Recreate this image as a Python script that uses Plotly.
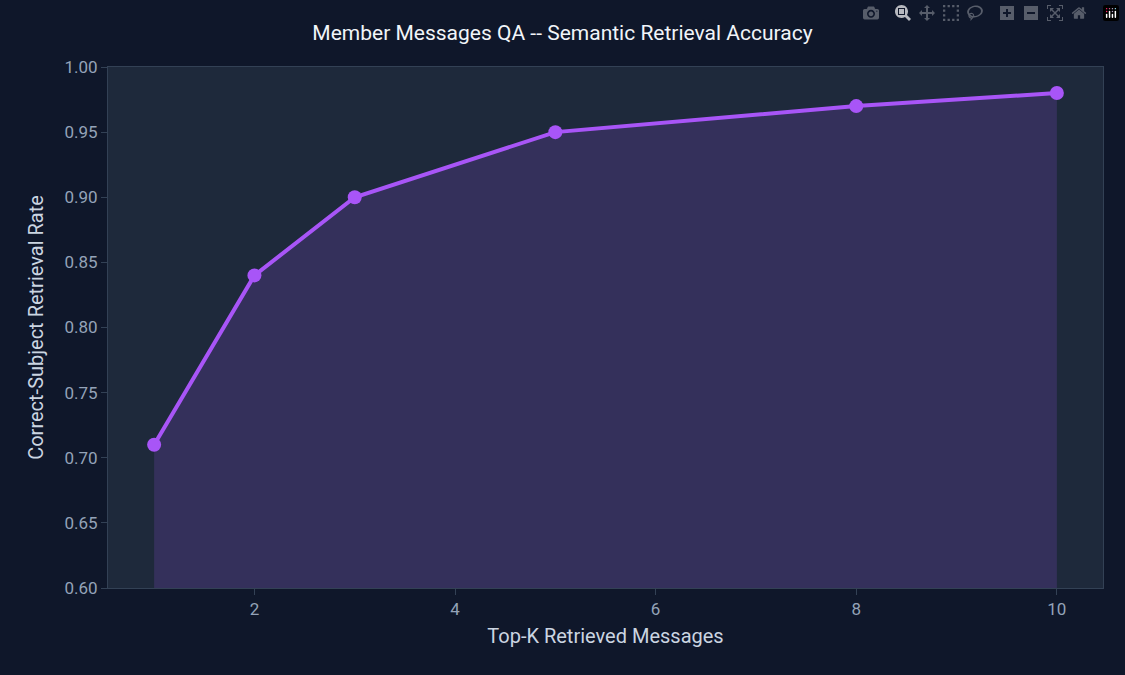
import plotly.graph_objects as go

top_k = [1, 2, 3, 5, 8, 10]
accuracy = [0.71, 0.84, 0.90, 0.95, 0.97, 0.98]

fig = go.Figure()
fig.add_trace(go.Scatter(
    x=top_k, y=accuracy,
    mode="lines+markers",
    line=dict(color="#a855f7", width=4),
    marker=dict(size=14, color="#a855f7"),
    fill="tozeroy",
    fillcolor="rgba(168,85,247,0.17)",
))

fig.update_layout(
    width=1125, height=675,
    paper_bgcolor="#0f172a",
    plot_bgcolor="#1e293b",
    font=dict(family="Roboto", color="#cbd5e1", size=17),
    title=dict(text="Member Messages QA -- Semantic Retrieval Accuracy",
               x=0.5, y=0.951, xanchor="center", yanchor="middle",
               font=dict(size=21, color="#f1f5f9")),
    margin=dict(l=108, r=22, t=67, b=87),
    showlegend=False,
)
fig.update_xaxes(
    title_text="Top-K Retrieved Messages", range=[0.54, 10.46],
    tickvals=[2, 4, 6, 8, 10], showgrid=False, zeroline=False,
    showline=True, mirror=True, linecolor="#334155",
    ticks="outside", tickcolor="#334155", ticklen=6,
    tickfont=dict(color="#94a3b8"), title_standoff=10,
)
fig.update_yaxes(
    title_text="Correct-Subject Retrieval Rate", range=[0.6, 1.0],
    dtick=0.05, tickformat=".2f", showgrid=False, zeroline=False,
    showline=True, mirror=True, linecolor="#334155",
    ticks="outside", tickcolor="#334155", ticklen=6,
    tickfont=dict(color="#94a3b8"),
)

fig.write_html("out.html", post_script="document.body.style.margin='0';")
